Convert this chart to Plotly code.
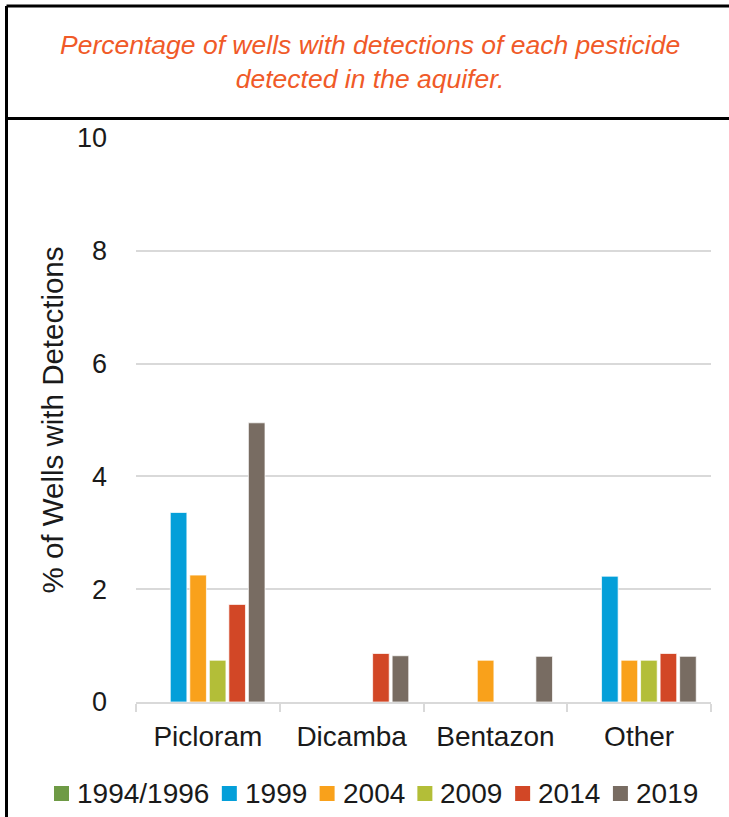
import plotly.graph_objects as go

categories = ["Picloram", "Dicamba", "Bentazon", "Other"]
series_names = ["1994/1996", "1999", "2004", "2009", "2014", "2019"]
v_1994_1996 = [None, None, None, None]
v_1999 = [3.36, None, None, 2.23]
v_2004 = [2.25, None, 0.74, 0.74]
v_2009 = [0.74, None, None, 0.74]
v_2014 = [1.73, 0.86, None, 0.86]
v_2019 = [4.95, 0.82, 0.81, 0.81]
colors = ["#6E9A45", "#049FD9", "#F9A11B", "#B3BE38", "#D24726", "#786C62"]
y_ticks = [0, 2, 4, 6, 8, 10]
title_text = "Percentage of wells with detections of each pesticide<br>detected in the aquifer."
y_title = "% of Wells with Detections"

FONT = "Liberation Sans, Arial, sans-serif"
TXT = "#1a1a1a"
W, H = 729, 817
L, R, T, B = 136, 18, 138, 115
pw, ph = W - L - R, H - T - B


def px_x(p):
    return (p - L) / pw


def px_y(p):
    return (H - B - p) / ph


fig = go.Figure()
all_vals = [v_1994_1996, v_1999, v_2004, v_2009, v_2014, v_2019]
for name, vals, col in zip(series_names, all_vals, colors):
    fig.add_trace(go.Bar(
        name=name, x=categories, y=vals, showlegend=False,
        marker=dict(color=col, line=dict(color="rgba(255,255,255,0.7)", width=1)),
    ))

# frame lines
shapes = [
    dict(type="line", xref="paper", yref="paper", x0=px_x(6.5), x1=px_x(735), y0=px_y(6), y1=px_y(6),
         line=dict(color="black", width=3)),
    dict(type="line", xref="paper", yref="paper", x0=px_x(6.5), x1=px_x(6.5), y0=px_y(6), y1=px_y(830),
         line=dict(color="black", width=3)),
    dict(type="line", xref="paper", yref="paper", x0=px_x(6.5), x1=px_x(735), y0=px_y(118.5), y1=px_y(118.5),
         line=dict(color="black", width=3)),
]

annotations = [dict(
    text=title_text, xref="paper", yref="paper", x=px_x(370), y=px_y(62),
    xanchor="center", yanchor="middle", showarrow=False,
    font=dict(family=FONT, size=26.5, color="#F05A28", style="italic"),
)]

# custom legend row (squares + labels)
LEG_FS = 28
char_w = {"/": 0.278}
cur = 54.0
sq, gap_in, gap_out = 15, 6, 14.5
leg_y = 793.5
for name, col in zip(series_names, colors):
    shapes.append(dict(type="rect", xref="paper", yref="paper",
                       x0=px_x(cur), x1=px_x(cur + sq), y0=px_y(leg_y - sq / 2), y1=px_y(leg_y + sq / 2),
                       fillcolor=col, line=dict(width=0)))
    tx = cur + sq + gap_in
    annotations.append(dict(text=name, xref="paper", yref="paper", x=px_x(tx), y=px_y(leg_y),
                            xanchor="left", yanchor="middle", showarrow=False,
                            font=dict(family=FONT, size=LEG_FS, color=TXT)))
    tw = sum(char_w.get(c, 0.556) for c in name) * LEG_FS
    cur = tx + tw + gap_out

fig.update_layout(
    width=W, height=H,
    margin=dict(l=L, r=R, t=T, b=B, autoexpand=False),
    paper_bgcolor="white", plot_bgcolor="white",
    barmode="group", bargap=0.185, bargroupgap=0.15,
    font=dict(family=FONT, size=28, color=TXT),
    shapes=shapes,
    annotations=annotations,
    showlegend=False,
    xaxis=dict(
        type="category", showline=True, linecolor="#D9D9D9", linewidth=2,
        ticks="outside", tickson="boundaries", ticklen=8, tickcolor="#D9D9D9", tickwidth=2,
        tickfont=dict(size=28, color=TXT), showgrid=False, ticklabelstandoff=8,
    ),
    yaxis=dict(
        range=[0, 10], tickvals=y_ticks, showgrid=True, gridcolor="#D9D9D9", gridwidth=2,
        zeroline=False, showline=False, ticks="", ticklabelstandoff=28,
        tickfont=dict(size=27, color=TXT),
        title=dict(text=y_title, font=dict(size=29.5, color=TXT), standoff=4),
    ),
)

fig.write_html("out.html", config={"displayModeBar": False},
               post_script="document.body.style.margin='0';document.body.style.padding='0';")
